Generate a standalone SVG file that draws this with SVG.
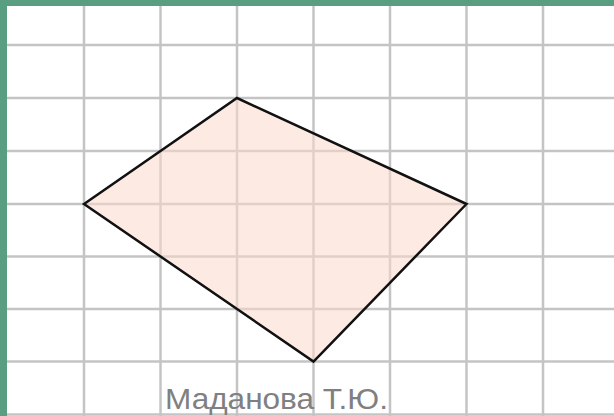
<svg xmlns="http://www.w3.org/2000/svg" width="614" height="416" viewBox="0 0 614 416">
<style>
.grid line{stroke:#c4c4c4;stroke-width:2.5}
.lbl{font-family:"Liberation Sans",Arial,sans-serif;font-size:29px;fill:#808080}
</style>
<rect x="0" y="0" width="614" height="416" fill="#ffffff"/>
<rect x="0" y="0" width="614" height="6" fill="#5a9e82"/>
<rect x="0" y="0" width="7" height="416" fill="#5a9e82"/>
<g class="grid" id="grid">
<line x1="84" y1="6" x2="84" y2="416"/>
<line x1="160.5" y1="6" x2="160.5" y2="416"/>
<line x1="237" y1="6" x2="237" y2="416"/>
<line x1="313.5" y1="6" x2="313.5" y2="416"/>
<line x1="390" y1="6" x2="390" y2="416"/>
<line x1="466.5" y1="6" x2="466.5" y2="416"/>
<line x1="543" y1="6" x2="543" y2="416"/>
<line x1="7" y1="45" x2="614" y2="45"/>
<line x1="7" y1="98" x2="614" y2="98"/>
<line x1="7" y1="151" x2="614" y2="151"/>
<line x1="7" y1="204" x2="614" y2="204"/>
<line x1="7" y1="256.5" x2="614" y2="256.5"/>
<line x1="7" y1="309" x2="614" y2="309"/>
<line x1="7" y1="361.5" x2="614" y2="361.5"/>
<line x1="7" y1="414.5" x2="614" y2="414.5"/>
</g>
<g id="shape">
<polygon points="84,204 237,98 466.5,204 313.5,361.5" fill="#fbd9cc" fill-opacity="0.55" stroke="#111111" stroke-width="2.5" stroke-linejoin="miter"/>
</g>
<text class="lbl" x="165" y="409" textLength="223" lengthAdjust="spacingAndGlyphs">Маданова Т.Ю.</text>
</svg>
